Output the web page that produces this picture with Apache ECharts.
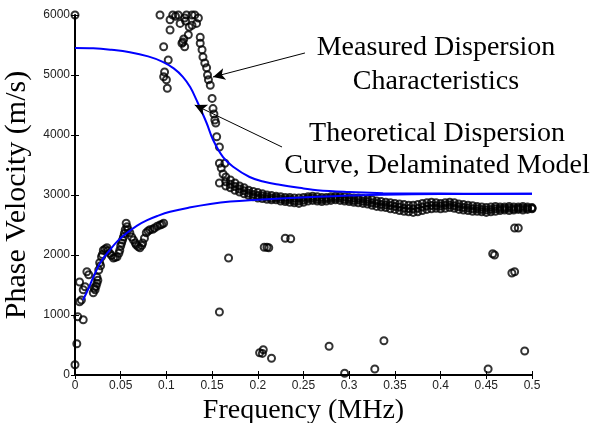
<!DOCTYPE html>
<html><head><meta charset="utf-8">
<script src="https://cdn.jsdelivr.net/npm/echarts@6/dist/echarts.min.js"></script>
<style>html,body{margin:0;padding:0;background:#fff}#c{width:603px;height:423px}</style>
</head><body><div id="c"></div>
<script>
// ---- data ----
var xTicks = [0, 0.05, 0.1, 0.15, 0.2, 0.25, 0.3, 0.35, 0.4, 0.45, 0.5];
var yTicks = [0, 1000, 2000, 3000, 4000, 5000, 6000];

var theoryUpper = [[0,5450],[0.02,5445],[0.04,5420],[0.06,5380],[0.08,5310],[0.096,5220],[0.108,5110],[0.118,4970],[0.126,4800],[0.133,4580],[0.144,4200],[0.151,3920],[0.162,3630],[0.173,3470],[0.191,3300],[0.207,3220],[0.224,3170],[0.25,3110],[0.265,3080],[0.3,3050],[0.337,3030],[0.4,3025],[0.45,3020],[0.5,3020]];
var theoryLower = [[0.0088,1250],[0.015,1450],[0.02,1630],[0.028,1880],[0.038,2080],[0.047,2240],[0.057,2370],[0.068,2490],[0.079,2580],[0.09,2650],[0.104,2720],[0.125,2790],[0.148,2850],[0.17,2890],[0.2,2920],[0.23,2945],[0.265,2970],[0.3,2990],[0.337,3005],[0.4,3015],[0.5,3020]];

var lowFreqPts = [[0,6000],[0,170],[0.002,520],[0.003,970],[0.009,920],[0.005,1220],[0.007,1250],[0.005,1550],[0.009,1420],[0.011,1470],[0.013,1720],[0.015,1670]];
var lowBandPts = [[0.02,1370],[0.022,1420],[0.024,1530],[0.024,1630],[0.026,1750],[0.027,1870],[0.029,1970],[0.031,2080],[0.035,2120],[0.038,2030],[0.042,1950],[0.046,1970],[0.049,2080],[0.051,2200],[0.053,2300],[0.055,2420],[0.056,2530],[0.057,2470],[0.06,2370],[0.064,2250],[0.067,2170],[0.071,2120],[0.074,2200],[0.078,2370],[0.082,2420],[0.087,2450],[0.093,2500],[0.097,2530],
  [0.021,1450],[0.023,1480],[0.025,1580],[0.028,1820],[0.03,2010],[0.033,2100],[0.036,2070],[0.04,1990],[0.044,1960],[0.048,2030],[0.05,2150],[0.052,2250],[0.054,2360],[0.058,2420],[0.062,2300],[0.066,2200],[0.069,2140],[0.073,2160],[0.076,2280],[0.08,2400],[0.085,2430],[0.09,2480],[0.095,2510]];
var topClusterPts = [[0.093,6000],[0.104,5920],[0.107,6000],[0.113,6000],[0.104,5750],[0.115,5860],[0.118,5550],[0.117,5530],[0.12,5470],[0.124,5670],[0.128,6000],[0.131,6000],[0.133,5860],[0.128,5830],[0.137,5630],[0.137,5530],[0.139,5420],[0.14,5300],[0.142,5200],[0.144,5120],[0.11,5980],[0.12,5950],[0.122,6000],[0.125,5800],[0.119,5600],[0.135,5950],[0.121,5900]];
var strayHighPts = [[0.097,5470],[0.102,5250],[0.098,5050],[0.097,4970],[0.1,4920],[0.101,4780]];
var dropPts = [[0.145,5000],[0.146,4920],[0.148,4830],[0.15,4610],[0.151,4440],[0.152,4350],[0.153,4250],[0.154,4200],[0.155,3970],[0.158,3800],[0.158,3530],[0.164,3530],[0.16,3450],[0.162,3350],[0.158,3200]];
var bandFreq = [0.165,0.17,0.175,0.18,0.185,0.19,0.195,0.2,0.205,0.21,0.215,0.22,0.225,0.23,0.235,0.24,0.245,0.25,0.255,0.26,0.265,0.27,0.275,0.28,0.285,0.29,0.295,0.3,0.305,0.31,0.315,0.32,0.325,0.33,0.335,0.34,0.345,0.35,0.355,0.36,0.365,0.37,0.375,0.38,0.385,0.39,0.395,0.4,0.405,0.41,0.415,0.42,0.425,0.43,0.435,0.44,0.445,0.45,0.455,0.46,0.465,0.47,0.475,0.48,0.485,0.49,0.495,0.5];
var bandUpper = [3300,3250,3200,3150,3120,3080,3060,3040,3020,3000,2990,2980,2970,2960,2960,2950,2950,2960,2970,2980,2970,2960,2960,2970,2980,2980,2970,2960,2950,2950,2940,2930,2920,2900,2890,2880,2870,2860,2850,2840,2830,2830,2840,2860,2870,2880,2870,2860,2870,2880,2870,2850,2840,2830,2820,2810,2800,2790,2800,2810,2800,2800,2810,2800,2800,2810,2800,2790];
var bandMid = [3220,3180,3140,3100,3070,3030,3010,2990,2985,2965,2950,2955,2935,2920,2925,2905,2900,2915,2940,2945,2930,2925,2935,2940,2950,2945,2930,2925,2910,2915,2895,2890,2870,2860,2840,2835,2825,2810,2800,2780,2775,2765,2780,2800,2815,2825,2820,2815,2830,2835,2820,2805,2790,2785,2770,2770,2760,2750,2760,2770,2770,2775,2780,2770,2780,2780,2780,2780];
var bandLower = [3150,3120,3080,3050,3020,2990,2970,2950,2940,2930,2920,2920,2900,2890,2880,2870,2860,2880,2900,2910,2900,2890,2900,2910,2920,2910,2900,2890,2880,2870,2860,2850,2830,2810,2800,2790,2770,2760,2740,2730,2720,2710,2720,2740,2760,2770,2780,2770,2780,2790,2780,2760,2750,2740,2730,2730,2720,2710,2720,2730,2740,2750,2740,2750,2760,2750,2760,2770];
var outlierPts = [[0.168,1950],[0.158,1050],[0.202,370],[0.205,360],[0.206,420],[0.215,280],[0.278,480],[0.295,30],[0.328,100],[0.338,570],[0.452,100],[0.492,400],[0.207,2130],[0.21,2130],[0.212,2120],[0.23,2280],[0.236,2270],[0.457,2020],[0.459,2000],[0.478,1700],[0.481,1720],[0.481,2450],[0.485,2450]];

var labelMeasured = ['Measured Dispersion', 'Characteristics'];
var labelTheory = ['Theoretical Dispersion', 'Curve, Delaminated Model'];
var arrowMeasured = [[0.2516,5367],[0.151,4967]];
var arrowTheory = [[0.2265,3800],[0.131,4500]];

// ---- build ----
var measured = [].concat(lowFreqPts, lowBandPts, topClusterPts, strayHighPts, dropPts, outlierPts);
bandFreq.forEach(function(f, i){
  measured.push([f, bandUpper[i]]); measured.push([f, bandMid[i]]); measured.push([f, bandLower[i]]);
});

var chart = echarts.init(document.getElementById('c'), null, {renderer:'canvas'});
var serif = '"Liberation Serif", "Times New Roman", serif';
var sans = '"Liberation Sans", Arial, sans-serif';
var tickLbl = {color:'#222', fontFamily:sans, fontSize:12};
chart.setOption({
  animation:false,
  grid:{left:75, top:15, right:71, bottom:48, containLabel:false, outerBoundsMode:'none'},
  xAxis:[{
    type:'value', min:0, max:0.5, interval:0.05,
    name:'Frequency (MHz)', nameLocation:'middle', nameGap:14,
    nameTextStyle:{fontFamily:serif, fontSize:28, color:'#000', verticalAlign:'top'},
    axisLine:{lineStyle:{color:'#000', width:2}},
    axisTick:{inside:true, length:4, lineStyle:{color:'#000'}},
    axisLabel:Object.assign({margin:5, formatter:function(v){return String(+v.toFixed(2));}}, tickLbl),
    splitLine:{show:false}
  },{
    type:'value', position:'top', min:0, max:0.5, interval:0.05,
    axisLine:{show:true, lineStyle:{color:'#000', width:1}},
    axisTick:{inside:true, length:4, lineStyle:{color:'#000'}},
    axisLabel:{show:false}, splitLine:{show:false}
  }],
  yAxis:[{
    type:'value', min:0, max:6000, interval:1000,
    name:'Phase Velocity (m/s)', nameLocation:'middle', nameGap:34,
    nameTextStyle:{fontFamily:serif, fontSize:30, color:'#000'},
    axisLine:{show:true, lineStyle:{color:'#000', width:2}},
    axisTick:{show:true, inside:true, length:4, lineStyle:{color:'#000'}},
    axisLabel:Object.assign({margin:5, formatter:function(v){return String(v);}}, tickLbl),
    splitLine:{show:false}
  },{
    type:'value', position:'right', min:0, max:6000, interval:1000,
    axisLine:{show:true, lineStyle:{color:'#000', width:1}},
    axisTick:{show:true, inside:true, length:4, lineStyle:{color:'#000'}},
    axisLabel:{show:false}, splitLine:{show:false}
  }],
  series:[{
    type:'scatter', data:measured, symbol:'circle', symbolSize:7, clip:false,
    itemStyle:{color:'rgba(0,0,0,0)', borderColor:'#000', borderWidth:2}, z:2
  },{
    type:'line', data:theoryUpper, smooth:0.4, showSymbol:false, symbol:'none',
    lineStyle:{color:'#0000ff', width:2}, z:3
  },{
    type:'line', data:theoryLower, smooth:0.4, showSymbol:false, symbol:'none',
    lineStyle:{color:'#0000ff', width:2}, z:3
  },{
    type:'line', data:[], z:4,
    markLine:{
      silent:true, symbol:['none','arrow'], symbolSize:[9,12],
      lineStyle:{color:'#000', width:1, type:'solid'}, label:{show:false},
      data:[[{coord:arrowMeasured[0]},{coord:arrowMeasured[1]}],[{coord:arrowTheory[0]},{coord:arrowTheory[1]}]]
    }
  }],
  graphic:[
    {type:'text', x:436, y:48, style:{text:labelMeasured[0], font:'28px '+serif, fill:'#000', textAlign:'center', textVerticalAlign:'middle'}, z:10},
    {type:'text', x:436, y:82, style:{text:labelMeasured[1], font:'28px '+serif, fill:'#000', textAlign:'center', textVerticalAlign:'middle'}, z:10},
    {type:'text', x:437, y:134, style:{text:labelTheory[0], font:'28px '+serif, fill:'#000', textAlign:'center', textVerticalAlign:'middle'}, z:10},
    {type:'text', x:437, y:166, style:{text:labelTheory[1], font:'28px '+serif, fill:'#000', textAlign:'center', textVerticalAlign:'middle'}, z:10}
  ]
});
</script></body></html>
